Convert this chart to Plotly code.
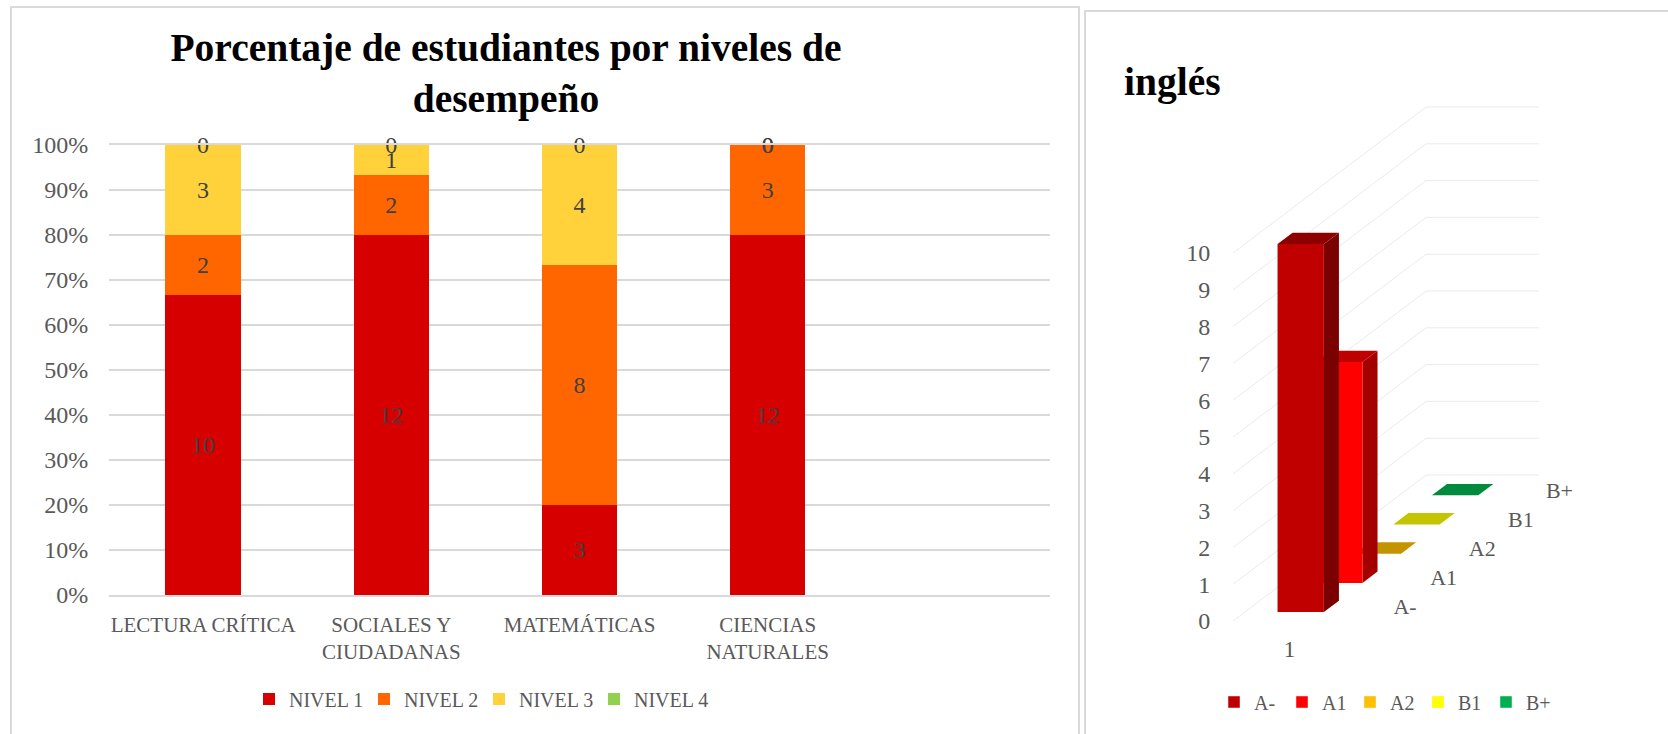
import plotly.graph_objects as go

# ---- left chart data
subjects = ["LECTURA CRÍTICA", "SOCIALES Y<br>CIUDADANAS", "MATEMÁTICAS", "CIENCIAS<br>NATURALES", " "]
nivel_names = ["NIVEL 1", "NIVEL 2", "NIVEL 3", "NIVEL 4"]
nivel_1 = [10, 12, 3, 12, None]
nivel_2 = [2, 2, 8, 3, None]
nivel_3 = [3, 1, 4, 0, None]
nivel_4 = [0, 0, 0, 0, None]
nivel_colors = ["#D60000", "#FF6600", "#FFD13B", "#92D050"]
pct_ticks = list(range(0, 101, 10))
pct_labels = ["0%", "10%", "20%", "30%", "40%", "50%", "60%", "70%", "80%", "90%", "100%"]

# ---- right chart data
english_levels = ["A-", "A1", "A2", "B1", "B+"]
english_values = [10, 6, 0, 0, 0]
front_colors = ["#C00000", "#FF0000", "#FFC000", "#FFFF00", "#00B050"]
top_colors = ["#8E0000", "#C00000", "#C49400", "#C4C400", "#008A3E"]
side_colors = ["#7B0000", "#A50000", "#A57C00", "#A5A500", "#007535"]
value_ticks = list(range(0, 11))

W, H = 1668, 734
FONT = "Liberation Serif"
GREY = "#595959"
fig = go.Figure()

# ---- left: 100 % stacked bars
series = [nivel_1, nivel_2, nivel_3, nivel_4]
for name, vals, col in zip(nivel_names, series, nivel_colors):
    fig.add_trace(go.Bar(x=subjects, y=vals, name=name, marker_color=col, marker_line_width=0,
                         xaxis="x", yaxis="y", legend="legend", hoverinfo="skip"))

LABEL_NUDGE = -0.5   # in percent points, the labels sit a little below the segment centre
cum = [0] * 4
for name, vals in zip(nivel_names, series):
    xs, ys, ts = [], [], []
    for i in range(4):
        total = sum(s[i] for s in series)
        xs.append(subjects[i])
        ys.append((cum[i] + vals[i] / 2) / total * 100 + LABEL_NUDGE)
        ts.append(str(vals[i]))
        cum[i] += vals[i]
    fig.add_trace(go.Scatter(x=xs, y=ys, text=ts, mode="text", showlegend=False, cliponaxis=False,
                             textfont=dict(family=FONT, size=24, color="#404040"),
                             xaxis="x", yaxis="y", hoverinfo="skip"))

# ---- right: oblique 3-D column chart, projected into axis units
# x unit = width of the category floor, y unit = one value on the vertical axis
DEPTH_X = 193 / 113      # whole floor depth, in x units
DEPTH_Y = 146 / 36.8     # whole floor depth, in value units
N = len(english_levels)


def proj(u, d, v):
    """u: across the floor 0..1, d: series depth 0..N, v: value."""
    return u + d / N * DEPTH_X, v + d / N * DEPTH_Y


# gridlines on the side and back walls
gx, gy = [], []
for v in value_ticks:
    for u, d in [(0, 0), (0, N), (1, N)]:
        px, py = proj(u, d, v)
        gx.append(px)
        gy.append(py)
    gx.append(None)
    gy.append(None)
fig.add_trace(go.Scatter(x=gx, y=gy, mode="lines", line=dict(color="#EBEBEB", width=1), showlegend=False,
                         xaxis="x2", yaxis="y2", hoverinfo="skip"))

U0, U1 = 0.29, 0.70
D0, D1 = 0.305, 0.695


def face(points, color):
    xs, ys = zip(*[proj(*p) for p in points + points[:1]])
    fig.add_trace(go.Scatter(x=xs, y=ys, mode="lines", fill="toself", fillcolor=color,
                             line=dict(width=0, color=color), showlegend=False,
                             xaxis="x2", yaxis="y2", hoverinfo="skip"))


for i in reversed(range(N)):
    v = english_values[i]
    a, b = i + D0, i + D1
    if v > 0:
        face([(U1, a, 0), (U1, b, 0), (U1, b, v), (U1, a, v)], side_colors[i])
    face([(U0, a, v), (U1, a, v), (U1, b, v), (U0, b, v)], top_colors[i])
    if v > 0:
        face([(U0, a, 0), (U1, a, 0), (U1, a, v), (U0, a, v)], front_colors[i])

# category and series labels
cat_x, cat_y = proj(0.5, 0, -0.83)
fig.add_trace(go.Scatter(x=[cat_x], y=[cat_y], text=["1"], mode="text", showlegend=False, cliponaxis=False,
                         textfont=dict(family=FONT, size=23, color=GREY), xaxis="x2", yaxis="y2", hoverinfo="skip"))
lx, ly = [], []
for i in range(N):
    px, py = proj(1.352, i + 0.5, -0.07)
    lx.append(px)
    ly.append(py)
fig.add_trace(go.Scatter(x=lx, y=ly, text=english_levels, mode="text", showlegend=False, cliponaxis=False,
                         textfont=dict(family=FONT, size=22, color=GREY), xaxis="x2", yaxis="y2", hoverinfo="skip"))

# legend entries for the right chart
for name, col in zip(english_levels, front_colors):
    fig.add_trace(go.Bar(x=[None], y=[None], name=name, marker_color=col, xaxis="x2", yaxis="y2",
                         legend="legend2", hoverinfo="skip"))

# panel frames
frames = [dict(x0=11, x1=1079, y0=7, y1=740), dict(x0=1085, x1=1675, y0=11, y1=740)]
shapes = [dict(type="rect", xref="paper", yref="paper", x0=f["x0"] / W, x1=f["x1"] / W,
               y0=1 - f["y1"] / H, y1=1 - f["y0"] / H, line=dict(color="#D9D9D9", width=2),
               fillcolor="rgba(0,0,0,0)", layer="below") for f in frames]

X0_PX, Y0_PX, UX, UY = 1233, 621, 113, 36.8
fig.update_layout(
    width=W, height=H, margin=dict(l=0, r=0, t=0, b=0, autoexpand=False), paper_bgcolor="white",
    plot_bgcolor="rgba(0,0,0,0)",
    barmode="stack", barnorm="percent", bargap=0.6, shapes=shapes, hovermode=False,
    font=dict(family=FONT, color=GREY, size=20),
    title=dict(text="<b>Porcentaje de estudiantes por niveles de<br>desempeño</b>", x=506 / W, xanchor="center",
               y=1 - 61 / H, yanchor="top", font=dict(family=FONT, size=39.5, color="black")),
    xaxis=dict(domain=[109 / W, 1050 / W], type="category", categoryorder="array", categoryarray=subjects,
               range=[-0.5, 4.5], showgrid=False, zeroline=False, showline=True, mirror=True, linecolor="#D9D9D9",
               linewidth=1.5, ticks="outside", ticklen=10,
               tickcolor="white", tickfont=dict(family=FONT, size=21, color=GREY), tickangle=0, anchor="y"),
    yaxis=dict(domain=[1 - 595 / H, 1 - 145 / H], range=[0, 100], tickvals=pct_ticks, ticktext=pct_labels,
               gridcolor="#D9D9D9", gridwidth=1.5, zeroline=False, showline=False, ticks="outside", ticklen=15,
               tickcolor="white", tickfont=dict(family=FONT, size=24, color=GREY), anchor="x"),
    xaxis2=dict(domain=[1090 / W, 1], range=[(1090 - X0_PX) / UX, (W - X0_PX) / UX], visible=False, anchor="y2"),
    yaxis2=dict(domain=[0, 1], range=[(Y0_PX - H) / UY, Y0_PX / UY], tickvals=value_ticks, showgrid=False,
                zeroline=False, showline=False, anchor="free", position=X0_PX / W, ticks="outside", ticklen=18,
                tickcolor="rgba(0,0,0,0)", tickfont=dict(family=FONT, size=24, color=GREY)),
    legend=dict(orientation="h", x=479 / W, xanchor="center", y=1 - 699 / H,
                yanchor="middle", font=dict(family=FONT, size=20, color=GREY), itemwidth=30, entrywidth=70,
                traceorder="normal", bgcolor="rgba(0,0,0,0)"),
    legend2=dict(orientation="h", x=1384 / W, xanchor="center", y=1 - 702 / H,
                 yanchor="middle", font=dict(family=FONT, size=20, color=GREY), itemwidth=30, entrywidth=23,
                 traceorder="normal", bgcolor="rgba(0,0,0,0)"),
    annotations=[dict(text="<b>inglés</b>", xref="paper", yref="paper", x=1122 / W, y=1 - 82 / H, xanchor="left",
                      yanchor="middle", showarrow=False, font=dict(family=FONT, size=39.5, color="black"))],
)

fig.write_html("out.html", config={"displayModeBar": False},
               post_script="document.body.style.margin='0';document.documentElement.style.overflow='hidden';")
